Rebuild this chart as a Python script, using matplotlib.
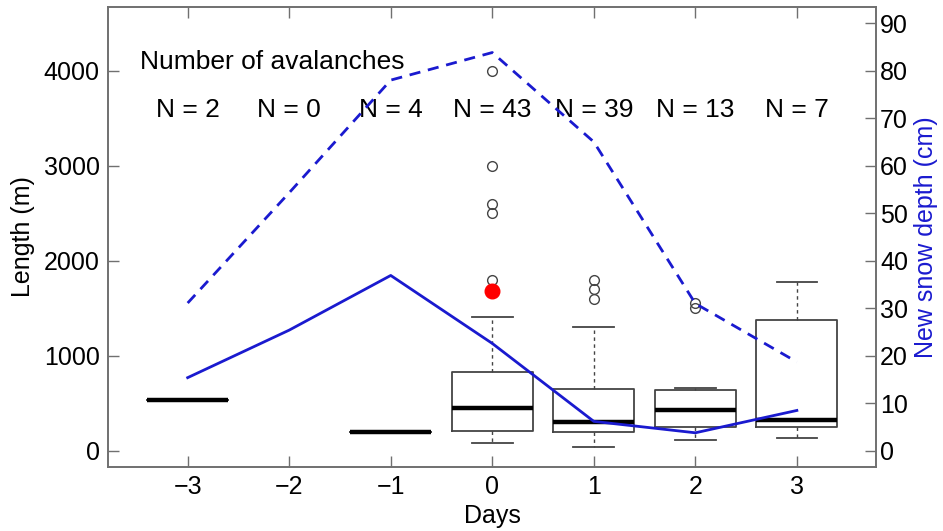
import matplotlib
matplotlib.use("Agg")
import matplotlib.pyplot as plt

plt.rcParams['font.family'] = ['Liberation Sans', 'DejaVu Sans']

# avalanche length statistics per day (m)
days = [-3, -1, 0, 1, 2, 3]
q1 = [530, 200, 207, 200, 253, 253]
med = [530, 200, 453, 299, 425, 323]
q3 = [530, 200, 825, 649, 642, 1376]
whislo = [530, 200, 84, 42, 113, 130]
whishi = [530, 200, 1404, 1299, 663, 1776]
fliers = [[], [], [4000, 3000, 2600, 2500, 1800], [1800, 1700, 1600], [1560, 1500], []]
red_day = 0
red_length = 1685

# number of avalanches per day
n_days = [-3, -2, -1, 0, 1, 2, 3]
n_counts = [2, 0, 4, 43, 39, 13, 7]

# new snow depth (cm)
snow_days = [-3, -2, -1, 0, 1, 2, 3]
snow_solid = [15.4, 25.4, 36.9, 22.6, 6.2, 3.8, 8.5]
snow_dashed = [31.1, 54.3, 78, 83.8, 65, 31, 18.7]

blue = '#1a1acf'
grey = '#444444'
spine_grey = '#707070'

fig = plt.figure(figsize=(9.43, 5.31), dpi=100)
ax = fig.add_axes([0.1145, 0.1205, 0.8145, 0.8665])

stats = []
for i in range(len(days)):
    stats.append(dict(med=med[i], q1=q1[i], q3=q3[i],
                      whislo=whislo[i], whishi=whishi[i], fliers=fliers[i]))

ax.bxp(stats, positions=days, widths=0.8, capwidths=0.4, manage_ticks=False,
       boxprops=dict(color=grey, linewidth=1.3),
       medianprops=dict(color='black', linewidth=3.2, solid_capstyle='butt'),
       whiskerprops=dict(color=grey, linewidth=1.0, linestyle=(0, (2.5, 2.5))),
       capprops=dict(color=grey, linewidth=1.3),
       flierprops=dict(marker='o', markerfacecolor='none', markeredgecolor=grey,
                       markersize=7, markeredgewidth=1.0))
ax.plot([red_day], [red_length], 'o', color='red', markersize=10.5, zorder=5)

ax.set_xlim(-3.785, 3.78)
ax.set_ylim(-170, 4670)
ax.set_xticks([-3, -2, -1, 0, 1, 2, 3])
ax.set_xticklabels(['\u22123', '\u22122', '\u22121', '0', '1', '2', '3'])
ax.set_yticks([0, 1000, 2000, 3000, 4000])
ax.tick_params(axis='both', direction='in', length=8, width=1.0, color=spine_grey,
               labelsize=18, pad=6)
ax.tick_params(axis='x', top=True)
ax.set_xlabel('Days', fontsize=18, labelpad=3)
ax.set_ylabel('Length (m)', fontsize=18, labelpad=6)

ax.text(-3.47, 4090, 'Number of avalanches', fontsize=19, ha='left', va='center')
for d, n in zip(n_days, n_counts):
    ax.text(d, 3585, 'N = %d' % n, fontsize=19, ha='center', va='center')

ax2 = ax.twinx()
ax2.plot(snow_days, snow_solid, color=blue, linewidth=2.0)
ax2.plot(snow_days, snow_dashed, color=blue, linewidth=2.0, linestyle=(0, (4, 2.8)))
ax2.set_ylim(-3.4, 93.4)
ax2.set_yticks(range(0, 100, 10))
ax2.tick_params(axis='y', direction='in', length=8, width=1.0, color=spine_grey,
                labelsize=18, pad=3)
ax2.set_ylabel('New snow depth (cm)', fontsize=18, color=blue, labelpad=4)

for a in (ax, ax2):
    for s in a.spines.values():
        s.set_color(spine_grey)
        s.set_linewidth(1.2)

fig.savefig('out.png', dpi=100)
